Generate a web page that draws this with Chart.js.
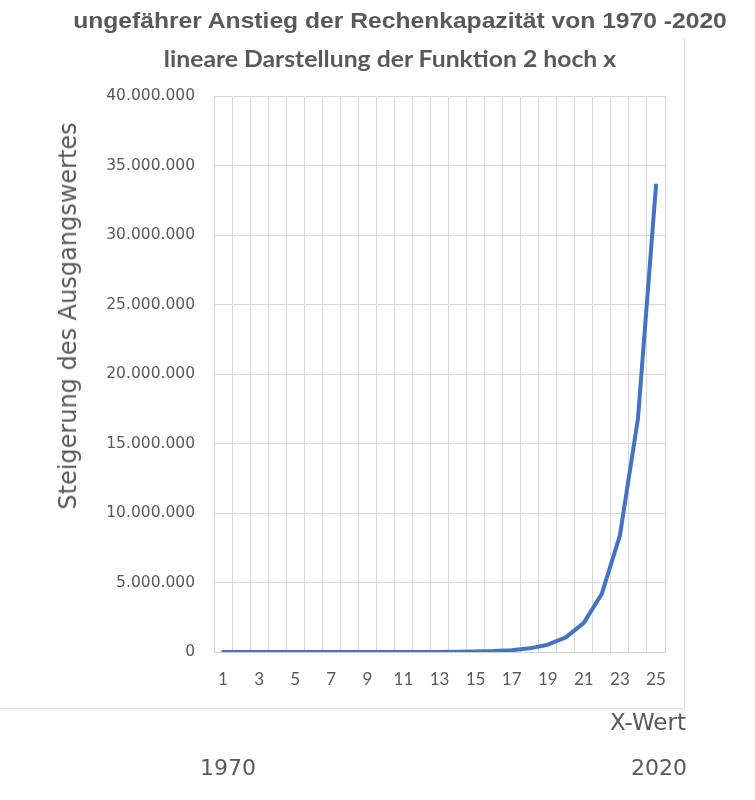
<!DOCTYPE html>
<html lang="de">
<head>
    <meta charset="UTF-8" />
    <title>Anstieg der Rechenkapazität</title>
    <script src="https://cdn.jsdelivr.net/npm/chart.js"></script>
    <style>
        html, body { margin: 0; padding: 0; background: #fff; }
        #wrap { position: relative; width: 755px; height: 800px; overflow: hidden; }
        #chart { position: absolute; left: 0; top: 0; }
        .txt { position: absolute; color: #595959; white-space: nowrap; line-height: 1; }
        .c { transform: translate(-50%, -50%); }
        .r { transform: translate(0, -50%); }
        #frame { position: absolute; left: -2px; top: 38px; width: 686px; height: 670px;
                 border-right: 1px solid #dedede; border-bottom: 1px solid #dedede; }
    </style>
</head>
<body>
<div id="wrap">
    <div id="frame"></div>
    <canvas id="chart" width="755" height="800"></canvas>
    <div class="txt" style="left:400px; top:21px; font:bold 22px 'Liberation Sans', Arial; transform:translate(-50%,-50%) scaleX(1.12);">ungefährer Anstieg der Rechenkapazität von 1970 -2020</div>
    <div class="txt" style="left:390px; top:58px; font:bold 23px Lato; transform:translate(-50%,-50%) scaleX(1.075);">lineare Darstellung der Funktion 2 hoch x</div>
    <div class="txt c" style="left:68px; top:316px; font:24px 'DejaVu Sans'; transform:translate(-50%,-50%) rotate(-90deg);">Steigerung des Ausgangswertes</div>
    <div class="txt r" style="right:69px; top:722px; font:23px 'DejaVu Sans';">X-Wert</div>
    <div class="txt c" style="left:228px; top:767px; font:22px 'DejaVu Sans';">1970</div>
    <div class="txt r" style="right:68px; top:767px; font:22px 'DejaVu Sans';">2020</div>
</div>

<script>
    // x-Werte (1 = 1970 ... 25 = 2020)
    const xLabels = [1, 2, 3, 4, 5, 6, 7, 8, 9, 10, 11, 12, 13, 14, 15, 16, 17, 18, 19, 20, 21, 22, 23, 24, 25];
    // 2 hoch x
    const values = [2, 4, 8, 16, 32, 64, 128, 256, 512, 1024, 2048, 4096, 8192, 16384, 32768,
        65536, 131072, 262144, 524288, 1048576, 2097152, 4194304, 8388608, 16777216, 33554432];
    const yTicks = [0, 5000000, 10000000, 15000000, 20000000, 25000000, 30000000, 35000000, 40000000];

    function fmt(v) {
        return String(v).replace(/\B(?=(\d{3})+(?!\d))/g, '.');
    }

    const gridColor = '#d9d9d9';

    new Chart(document.getElementById('chart'), {
        type: 'line',
        data: {
            labels: xLabels,
            datasets: [{
                data: values,
                borderColor: '#4472C4',
                borderWidth: 4,
                borderCapStyle: 'round',
                borderJoinStyle: 'round',
                pointRadius: 0,
                tension: 0,
                fill: false
            }]
        },
        options: {
            responsive: false,
            animation: false,
            layout: { padding: { top: 96, right: 90, bottom: 108, left: 0 } },
            plugins: {
                legend: { display: false },
                tooltip: { enabled: false }
            },
            scales: {
                x: {
                    type: 'category',
                    offset: true,
                    grid: { offset: true, color: gridColor, lineWidth: 1, drawTicks: false },
                    border: { color: '#d0d0d0', width: 1 },
                    ticks: {
                        autoSkip: false,
                        maxRotation: 0,
                        padding: 17,
                        color: '#595959',
                        font: { family: 'Lato', size: 17 },
                        callback: (v, i) => (i % 2 === 0 ? xLabels[i] : '')
                    },
                    afterFit: s => { s.height = 40; }
                },
                y: {
                    min: 0,
                    max: 40000000,
                    afterBuildTicks: s => { s.ticks = yTicks.map(v => ({ value: v })); },
                    grid: { color: gridColor, lineWidth: 1, drawTicks: false },
                    border: { display: false },
                    ticks: {
                        padding: 19,
                        color: '#595959',
                        font: { family: 'DejaVu Sans', size: 15.5 },
                        callback: v => fmt(v)
                    },
                    afterFit: s => { s.width = 214; }
                }
            }
        }
    });
</script>
</body>
</html>
